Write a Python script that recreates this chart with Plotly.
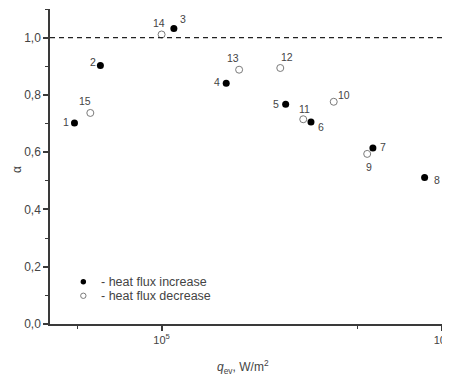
import math
import plotly.graph_objects as go

# ---- data ----
inc_labels = ["1", "2", "3", "4", "5", "6", "7", "8"]
inc_q = [48900, 60500, 110600, 170000, 277000, 341000, 567000, 867000]
inc_alpha = [0.702, 0.903, 1.032, 0.841, 0.767, 0.705, 0.615, 0.512]

dec_labels = ["9", "10", "11", "12", "13", "14", "15"]
dec_q = [541000, 411000, 320000, 265000, 189000, 100000, 55700]
dec_alpha = [0.594, 0.776, 0.715, 0.894, 0.888, 1.011, 0.737]

y_tickvals = [0.0, 0.2, 0.4, 0.6, 0.8, 1.0]
y_ticktext = ["0,0", "0,2", "0,4", "0,6", "0,8", "1,0"]
x_tickvals = [1e5, 1e6]
x_ticktext = ["10<sup>5</sup>", "10<sup>6</sup>"]

legend_names = ["- heat flux increase", "- heat flux decrease"]

# label offsets in pixels (dx right, dy down)
label_offsets = {
    "1": (-8, -1), "2": (-7, -3), "3": (9, -9), "4": (-9, -1), "5": (-10, 0),
    "6": (10, 5), "7": (10, -1), "8": (12, 3), "9": (2, 13), "10": (10, -7),
    "11": (1, -10), "12": (7, -11), "13": (-6, -12), "14": (-3, -11), "15": (-5, -12),
}

FONT = "Liberation Sans, Arial, sans-serif"
TXT = "#444444"
AX = "#3a3a3a"

# the page body adds an 8px offset; size the figure so the plot lands where the reference has it
OFF = 8
W, H = 450 - OFF, 377 - OFF
ML, MR, MT, MB = 50 - OFF, 8.3, 8.6 - OFF, 52.7
PW, PH = W - ML - MR, H - MT - MB


def px_to_paper(px, py):
    """page pixel -> paper coordinates"""
    fx, fy = px - OFF, py - OFF
    return (fx - ML) / PW, (H - MB - fy) / PH


fig = go.Figure()
fig.add_trace(go.Scatter(
    x=inc_q, y=inc_alpha, mode="markers", name=legend_names[0], showlegend=False,
    marker=dict(symbol="circle", size=7, color="black", line=dict(width=0)),
    cliponaxis=False,
))
fig.add_trace(go.Scatter(
    x=dec_q, y=dec_alpha, mode="markers", name=legend_names[1], showlegend=False,
    marker=dict(symbol="circle", size=7, color="white", line=dict(width=1, color="#7a7a7a")),
    cliponaxis=False,
))

annotations = []
for labels, xs, ys in ((inc_labels, inc_q, inc_alpha), (dec_labels, dec_q, dec_alpha)):
    for lab, xv, yv in zip(labels, xs, ys):
        dx, dy = label_offsets[lab]
        annotations.append(dict(
            x=math.log10(xv), y=yv, xref="x", yref="y", text=lab, showarrow=False,
            xshift=dx, yshift=-dy, font=dict(family=FONT, size=10.5, color=TXT),
        ))

# hand-made legend (matches the reference's compact key)
shapes = [dict(
    type="line", xref="paper", yref="y", x0=0, x1=1, y0=1.0, y1=1.0,
    line=dict(color="#222222", width=1.3, dash="5px,4px"),
)]
legend_rows = [(282, "black", "black"), (296, "white", "#7a7a7a")]
for (py, fill, edge), name in zip(legend_rows, legend_names):
    mx, my = px_to_paper(83.3, py)
    shapes.append(dict(
        type="circle", xref="paper", yref="paper", xsizemode="pixel", ysizemode="pixel",
        xanchor=mx, yanchor=my, x0=-2.7, x1=2.7, y0=-2.7, y1=2.7,
        fillcolor=fill, line=dict(color=edge, width=1 if fill == "white" else 0),
    ))
    tx, ty = px_to_paper(99, py)
    annotations.append(dict(
        x=tx, y=ty, xref="paper", yref="paper", text=name, showarrow=False,
        xanchor="left", yanchor="middle", font=dict(family=FONT, size=12.5, color=TXT),
    ))

# axis titles as annotations for exact placement
qx, qy = px_to_paper(243, 367)
annotations.append(dict(
    x=qx, y=qy, xref="paper", yref="paper", showarrow=False,
    text="<i>q</i><sub>ev</sub>, W/m<sup>2</sup>", xanchor="center", yanchor="middle",
    font=dict(family=FONT, size=12, color=TXT),
))
ax_, ay_ = px_to_paper(17, 169)
annotations.append(dict(
    x=ax_, y=ay_, xref="paper", yref="paper", showarrow=False, textangle=-90,
    text="α", xanchor="center", yanchor="middle",
    font=dict(family=FONT, size=12, color=TXT),
))

fig.update_layout(
    width=W, height=H,
    margin=dict(l=ML, r=MR, t=MT, b=MB, autoexpand=False),
    paper_bgcolor="white", plot_bgcolor="white",
    font=dict(family=FONT, color=TXT, size=12),
    annotations=annotations,
    shapes=shapes,
    showlegend=False,
)

fig.update_xaxes(
    type="log", range=[math.log10(40000), 6], automargin=False,
    showgrid=False, zeroline=False,
    showline=True, linecolor=AX, linewidth=1.5,
    ticks="outside", ticklen=5, tickwidth=1.5, tickcolor=AX,
    tickvals=x_tickvals, ticktext=x_ticktext, ticklabeloverflow="allow",
    tickfont=dict(family=FONT, size=11, color=TXT),
    minor=dict(tickvals=[5e4, 5e5], ticks="outside", ticklen=3, tickwidth=1.2, tickcolor=AX),
)
fig.update_yaxes(
    range=[0, 1.1], automargin=False,
    showgrid=False, zeroline=False,
    showline=True, linecolor=AX, linewidth=1.5,
    ticks="outside", ticklen=5, tickwidth=1.5, tickcolor=AX,
    tickvals=y_tickvals, ticktext=y_ticktext, ticklabeloverflow="allow",
    tickfont=dict(family=FONT, size=12, color=TXT),
    minor=dict(dtick=0.1, ticks="outside", ticklen=3, tickwidth=1.2, tickcolor=AX),
)

fig.write_html("out.html")
